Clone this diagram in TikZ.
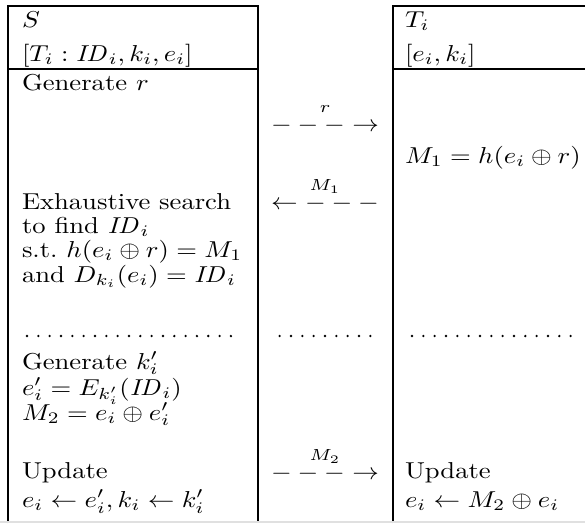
\documentclass[tikz,border=0pt]{standalone}
\usepackage{amsmath}
\usepackage{graphicx}
% text is set at 10pt and enlarged, a little less in height than in width
\newcommand{\tx}[1]{\scalebox{2.66}[2.3]{#1}}
\begin{document}
\begin{tikzpicture}[x=1pt,y=-1pt,
  rulel/.style={line width=1.1pt},
  txt/.style={anchor=base west, inner sep=0pt, outer sep=0pt},
  msg/.style={anchor=base, inner sep=0pt, outer sep=0pt}]
\useasboundingbox (0,0) rectangle (585,523);
\fill[white] (0,0) rectangle (585,523);

% server column frame
\draw[rulel] (8,523) -- (8,6) -- (258,6) -- (258,523);
\draw[rulel] (8,69) -- (258,69);
% tag column frame
\draw[rulel] (393,523) -- (393,6) -- (585,6);
\draw[rulel] (393,69) -- (585,69);
% bottom rule
\draw[black!12, line width=1.5pt] (0,521.8) -- (585,521.8);

% server side
\node[txt] (sname) at (22,27) {\tx{$S$}};
\node[txt] (sdata) at (22,61) {\tx{$[T_i : \mathit{ID}_i, k_i, e_i]$}};
\node[txt] (sgen)  at (22,90) {\tx{Generate $r$}};
\node[txt] (ssrch1) at (22,209) {\tx{Exhaustive search}};
\node[txt] (ssrch2) at (22,233) {\tx{to find $\mathit{ID}_i$}};
\node[txt] (ssrch3) at (22,257) {\tx{s.t.\ $h(e_i \oplus r) = M_1$}};
\node[txt] (ssrch4) at (22,282) {\tx{and $D_{k_i}(e_i) = \mathit{ID}_i$}};
\node[txt] (sgenk)  at (22,369) {\tx{Generate $k_i'$}};
\node[txt] (senc)   at (22,395) {\tx{$e_i' = E_{k_i'}(\mathit{ID}_i)$}};
\node[txt] (sm2)    at (22,420) {\tx{$M_2 = e_i \oplus e_i'$}};
\node[txt] (supd)   at (22,478) {\tx{Update}};
\node[txt] (supd2)  at (22,507) {\tx{$e_i \leftarrow e_i', k_i \leftarrow k_i'$}};

% tag side
\node[txt] (tname) at (405,27) {\tx{$T_i$}};
\node[txt] (tdata) at (405,61) {\tx{$[e_i, k_i]$}};
\node[txt] (tm1)   at (405,163) {\tx{$M_1 = h(e_i \oplus r)$}};
\node[txt] (tupd)  at (405,478) {\tx{Update}};
\node[txt] (tupd2) at (405,507) {\tx{$e_i \leftarrow M_2 \oplus e_i$}};

% messages
\node[msg] (msgr)  at (325,131) {\tx{$\overset{r}{- - - \rightarrow}$}};
\node[msg] (msgm1) at (325,209) {\tx{$\overset{M_1}{\leftarrow - - -}$}};
\node[msg] (msgm2) at (325,479) {\tx{$\overset{M_2}{- - - \rightarrow}$}};

% dotted separators
\foreach \i in {0,...,18} \fill ({27+11.33*\i},336) circle[radius=1.3pt];
\foreach \i in {-4,...,4} \fill ({325+11.33*\i},336) circle[radius=1.3pt];
\foreach \i in {0,...,14} \fill ({412+11.33*\i},336) circle[radius=1.3pt];
\end{tikzpicture}
\end{document}
